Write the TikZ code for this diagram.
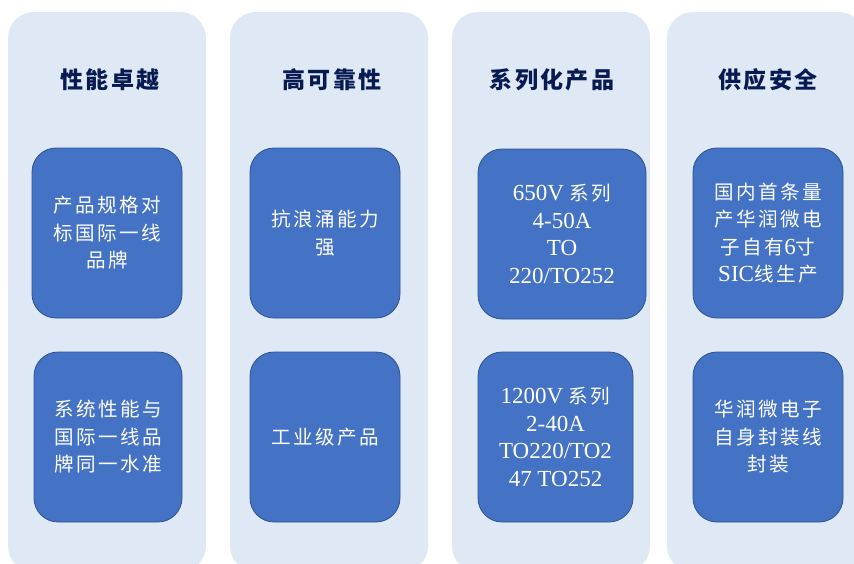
\documentclass[tikz,border=0pt]{standalone}
\usepackage{fontspec}
\setmainfont{Liberation Serif}
\newfontfamily\cjk[Scale=0.85,LetterSpace=13]{Noto Sans CJK SC}
\newfontfamily\cjkt[LetterSpace=10]{Noto Sans CJK SC}
\definecolor{colbg}{HTML}{DEE9F5}
\definecolor{boxfill}{HTML}{4472C4}
\definecolor{boxline}{HTML}{2F528F}
\definecolor{titlec}{HTML}{081A52}
\tikzset{
  column/.style={fill=colbg, draw=none, rounded corners=26pt, minimum width=198pt, minimum height=560pt, inner sep=0pt},
  bbox/.style={fill=boxfill, draw=boxline, line width=0.8pt, rounded corners=24pt, minimum height=170pt, minimum width=150pt, inner sep=0pt, align=center, text=white, font=\fontsize{23pt}{27.5pt}\selectfont},
  ttl/.style={text=titlec, font=\fontsize{23pt}{26pt}\selectfont\cjkt\bfseries, inner sep=0pt}
}
\begin{document}
\begin{tikzpicture}[x=1pt,y=-1pt]
\useasboundingbox (0,0) rectangle (854,563);
\clip (0,0) rectangle (854,563);
\node[column] (c1) at (107,292) {};
\node[column] (c2) at (329,292) {};
\node[column] (c3) at (551,292) {};
\node[column] (c4) at (766,292) {};
\node[ttl] (t1) at (110,80) {性能卓越};
\node[ttl] (t2) at (332,80) {高可靠性};
\node[ttl] (t3) at (552,80) {系列化产品};
\node[ttl] (t4) at (768,80) {供应安全};
\node[bbox] (b11) at (107,233) {\cjk 产品规格对\\\cjk 标国际一线\\\cjk 品牌};
\node[bbox, minimum width=148pt] (b12) at (108,437) {\cjk 系统性能与\\\cjk 国际一线品\\\cjk 牌同一水准};
\node[bbox] (b21) at (325,233) {\cjk 抗浪涌能力\\\cjk 强};
\node[bbox] (b22) at (325,437) {\cjk 工业级产品};
\node[bbox, minimum width=168pt] (b31) at (562,234) {650V {\cjk 系列}\\4-50A\\TO\\220/TO252};
\node[bbox, minimum width=155pt] (b32) at (555.5,437) {1200V {\cjk 系列}\\2-40A\\TO220/TO2\\47 TO252};
\node[bbox] (b41) at (768,233) {\cjk 国内首条量\\\cjk 产华润微电\\{\cjk 子自有}6{\cjk 寸}\\SIC{\cjk 线生产}};
\node[bbox] (b42) at (768,437) {\cjk 华润微电子\\\cjk 自身封装线\\\cjk 封装};
\end{tikzpicture}
\end{document}
